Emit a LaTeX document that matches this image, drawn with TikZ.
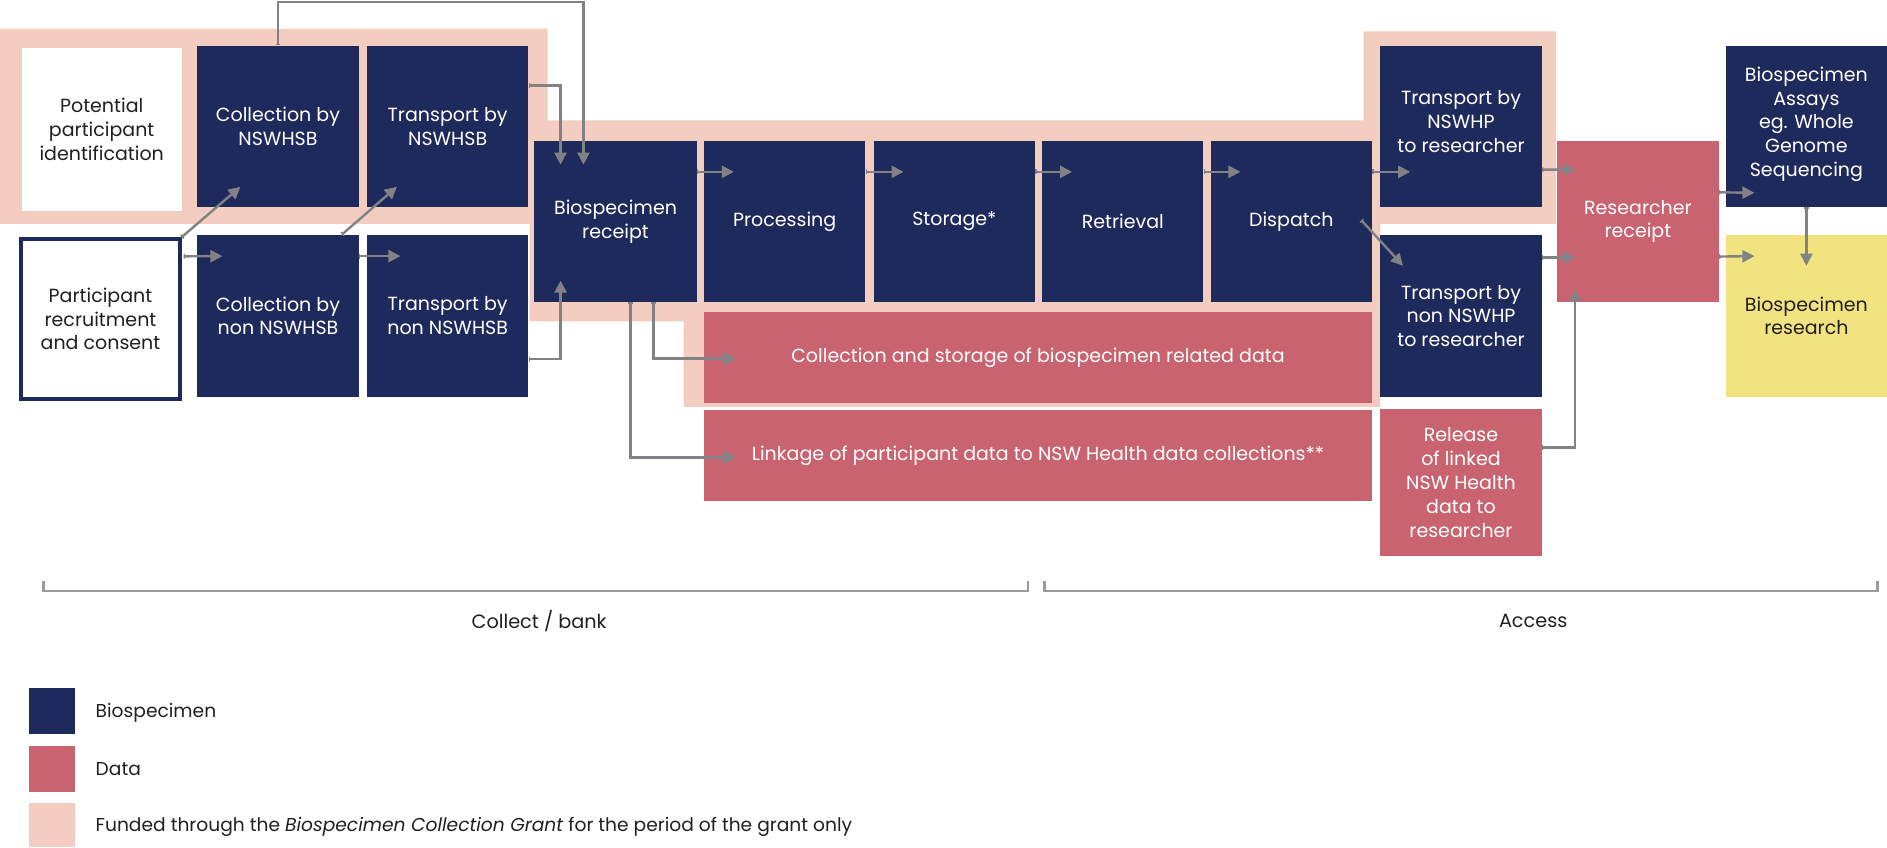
\documentclass[tikz,border=0pt]{standalone}
\usepackage{fontspec}
\setmainfont{Poppins}
\usetikzlibrary{calc,arrows.meta}
\definecolor{navy}{HTML}{1F2A5C}
\definecolor{rose}{HTML}{C9636F}
\definecolor{peach}{HTML}{F3CDBF}
\definecolor{lemon}{HTML}{F1E37F}
\definecolor{flowgray}{HTML}{808285}
\definecolor{ink}{HTML}{231F20}
\tikzset{
  box/.style={minimum width=134pt, minimum height=134pt, inner sep=0pt,
    align=center, font=\fontsize{15.8}{19.8}\selectfont},
  bio/.style={box, fill=navy, text=white},
  data/.style={box, fill=rose, text=white},
  flow/.style={draw=flowgray, line width=2pt,
    {Bar[width=4pt,line width=1.2pt]}-{Triangle[length=10pt,width=10pt]}},
  brace/.style={draw=flowgray!80, line width=2pt},
  key/.style={anchor=west, text=ink, font=\fontsize{15.5}{19}\selectfont},
}
\begin{document}
\begin{tikzpicture}[x=1pt, y=-1pt]
			%%%%% FRAME %%%%%
			\useasboundingbox (0,0) rectangle (1568,704);
			
			% funded area
			\fill[peach] (0,24) -- (455,24) -- (455,100) -- (1133,100) -- (1133,26)
			  -- (1293,26) -- (1293,186) -- (1147,186) -- (1147,338) -- (568,338)
			  -- (568,267) -- (440,267) -- (440,186) -- (0,186) -- cycle;
			
			%%%%% COLLECT %%%%%
			\node[box, fill=white, text=ink, minimum width=133pt, minimum height=135pt] (pot) at (84.5,107.5) {Potential\\participant\\identification};
			\node[box, fill=white, text=ink, draw=navy, line width=3pt, minimum width=132pt, minimum height=133pt] (part) at (83.5,265) {Participant\\recruitment\\and consent};
			
			\node[bio] (colA) at (231,105) {Collection by\\NSWHSB};
			\node[bio] (trA) at (372,105) {Transport by\\NSWHSB};
			\node[bio, minimum height=135pt] (colB) at (231,262.5) {Collection by\\non NSWHSB};
			\node[bio, minimum height=135pt] (trB) at (372,262.5) {Transport by\\non NSWHSB};
			
			\node[bio, minimum width=135pt] (recv) at (511.5,184) {Biospecimen\\receipt};
			\node[bio] (proc) at (652,184) {Processing};
			\node[bio] (stor) at (793,184) {Storage*};
			\node[bio] (retr) at (933,184) {Retrieval};
			\node[bio] (disp) at (1073,184) {Dispatch};
			
			\node[data, minimum width=555pt, minimum height=76pt] (cdata) at (862.5,297) {Collection and storage of biospecimen related data};
			\node[data, minimum width=555pt, minimum height=75pt] (link) at (862.5,378.5) {Linkage of participant data to NSW Health data collections**};
			
			%%%%% ACCESS %%%%%
			\node[bio] (trC) at (1214,105) {Transport by\\NSWHP\\to researcher\\[-12pt]};
			\node[bio, minimum height=135pt] (trD) at (1214,262.5) {Transport by\\non NSWHP\\to researcher};
			\node[data, minimum height=122pt] (rel) at (1214,401) {Release\\of linked\\NSW Health\\data to\\researcher};
			\node[data] (rres) at (1361,184) {Researcher\\receipt};
			\node[bio] (assay) at (1501,105) {Biospecimen\\Assays\\eg. Whole\\Genome\\Sequencing\\[-12pt]};
			\node[box, fill=lemon, text=ink, minimum height=135pt] (resr) at (1501,262.5) {Biospecimen\\research};
			
			%%%%% FLOWS %%%%%
			\draw[flow] (colA.north) -- ++(0,-36) -| ($(recv.north west)+(41,20)$);
			\draw[flow] ($(trA.east)+(0,-34)$) -| ($(recv.north west)+(22,20)$);
			\draw[flow] ($(trB.east)+(0,36)$) -| ($(recv.south west)+(22,-18)$);
			\draw[flow] (part.north east) -- ($(colA.south west)+(36,-17)$);
			\draw[flow] ($(colB.north east)+(-14,0)$) -- ($(trA.south west)+(25,-17)$);
			\draw[flow] ($(part.north east)+(1.5,16)$) -- ($(colB.north west)+(21,18)$);
			\draw[flow] ($(colB.north east)+(0,18)$) -- ($(trB.north west)+(28,18)$);
			
			\foreach \a/\b in {recv/proc, proc/stor, stor/retr, retr/disp}
			  \draw[flow] ($(\a.north east)+(0,26)$) -- ($(\b.north west)+(25,26)$);
			\draw[flow] ($(disp.north east)+(0,26)$) -- ($(trC.north west)+(25,105)$);
			\draw[flow] ($(disp.east)+(-9,-1)$) -- ($(trD.north west)+(19,26)$);
			
			\draw[flow] ($(recv.south)+(12.5,0)$) |- ($(link.west)+(27,1.5)$);
			\draw[flow] ($(recv.south)+(31.5,0)$) |- ($(cdata.west)+(27,1)$);
			
			\draw[flow] ($(trC.east)+(0,36)$) -- ($(rres.north west)+(15,24)$);
			\draw[flow] ($(trD.north east)+(0,19)$) -- ($(rres.north west)+(15,97)$);
			\draw[flow] ($(rel.east)+(0,-29)$) -| ($(rres.south west)+(15,-11)$);
			\draw[flow] ($(rres.north east)+(0,43)$) -- ($(assay.south west)+(24,-12)$);
			\draw[flow] ($(rres.south east)+(0,-38)$) -- ($(resr.north west)+(24,18)$);
			\draw[flow] (assay.south) -- ($(resr.north)+(0,26)$);
			
			%%%%% PHASES %%%%%
			\draw[brace] (36,483) -- (36,491) -- (854,491) -- (854,483);
			\draw[brace] (868,483) -- (868,491) -- (1560,491) -- (1560,483);
			\node[text=ink, font=\fontsize{16}{19}\selectfont] (collect) at (448,516) {Collect / bank};
			\node[text=ink, font=\fontsize{16}{19}\selectfont] (access) at (1274,516) {Access};
			
			%%%%% LEGEND %%%%%
			\fill[navy] (24,572) rectangle (62,610);
			\fill[rose] (24,620) rectangle (62,658);
			\fill[peach] (24,667) rectangle (62,704);
			\node[key] (lbio) at (76,592) {Biospecimen};
			\node[key] (ldata) at (76,639) {Data};
			\node[key] (lfund) at (76,687) {Funded through the \textit{Biospecimen Collection Grant} for the period of the grant only};
			
		\end{tikzpicture}
\end{document}
